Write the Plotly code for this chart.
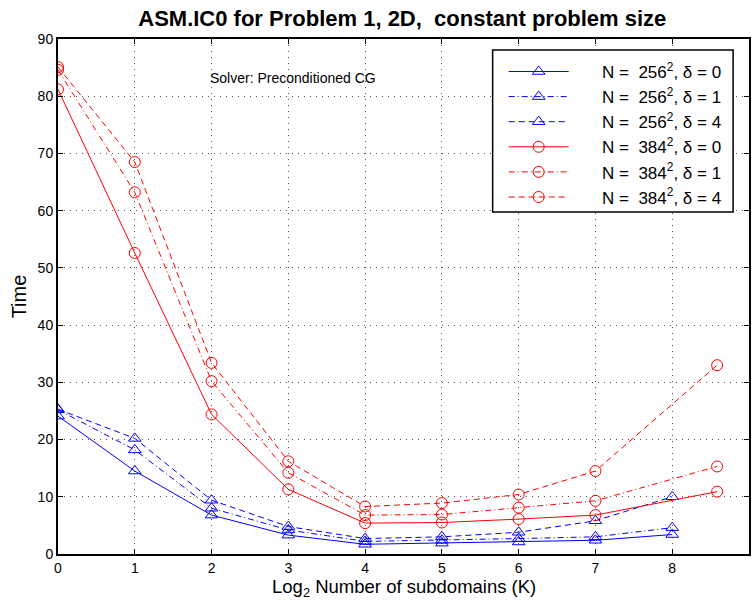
import plotly.graph_objects as go

x256 = [0, 1, 2, 3, 4, 5, 6, 7, 8]
x384 = [0, 1, 2, 3, 4, 5, 6, 7, 8.585]

t256_d0 = [24.1, 14.5, 6.8, 3.3, 1.7, 1.9, 2.1, 2.4, 3.4]
t256_d1 = [25.2, 18.2, 8.0, 4.2, 2.2, 2.4, 2.7, 3.0, 4.6]
t256_d4 = [25.3, 20.2, 9.4, 4.8, 2.7, 3.0, 3.8, 5.8, 10.0]

t384_d0 = [81.2, 52.6, 24.4, 11.3, 5.4, 5.5, 6.1, 6.8, 10.9]
t384_d1 = [84.6, 63.2, 30.2, 14.2, 6.8, 6.9, 8.1, 9.3, 15.3]
t384_d4 = [85.1, 68.5, 33.4, 16.2, 8.3, 8.9, 10.4, 14.5, 33.0]

NB = "\u00a0"
labels = [
    NB * 6 + "N =" + NB * 2 + "256<sup>2</sup>, δ = 0",
    NB * 6 + "N =" + NB * 2 + "256<sup>2</sup>, δ = 1",
    NB * 6 + "N =" + NB * 2 + "256<sup>2</sup>, δ = 4",
    NB * 6 + "N =" + NB * 2 + "384<sup>2</sup>, δ = 0",
    NB * 6 + "N =" + NB * 2 + "384<sup>2</sup>, δ = 1",
    NB * 6 + "N =" + NB * 2 + "384<sup>2</sup>, δ = 4",
]

DASH = "6px,4px"
DASHDOT = "6px,3px,1px,3px"

series = [
    (x256, t256_d0, "blue", "solid", "triangle-up-open"),
    (x256, t256_d1, "blue", DASHDOT, "triangle-up-open"),
    (x256, t256_d4, "blue", DASH, "triangle-up-open"),
    (x384, t384_d0, "red", "solid", "circle-open"),
    (x384, t384_d1, "red", DASHDOT, "circle-open"),
    (x384, t384_d4, "red", DASH, "circle-open"),
]

fig = go.Figure()
for (xs, ys, col, dash, sym), lab in zip(series, labels):
    fig.add_trace(go.Scatter(
        x=xs, y=ys, name=lab, mode="lines+markers",
        line=dict(color=col, width=1, dash=dash),
        marker=dict(symbol=sym, size=11, color=col, line=dict(width=1, color=col)),
    ))

fig.add_annotation(x=3.06, y=83.2, xref="x", yref="y", text="Solver: Preconditioned CG",
                   showarrow=False, font=dict(size=14, color="black"))

# x-axis title as annotation below the tick labels
fig.add_annotation(x=0.5, y=-0.066, xref="paper", yref="paper", xanchor="center", yanchor="middle",
                   text="Log<sub>2</sub> Number of subdomains (K)", showarrow=False,
                   font=dict(size=18.5, color="black"), borderpad=0)

# legend frame
fig.add_shape(type="rect", xref="paper", yref="paper",
              x0=0.629, x1=0.977, y0=0.664, y1=0.9786,
              line=dict(color="black", width=1.5), fillcolor="white", layer="above")

axis_common = dict(
    showline=True, linecolor="black", linewidth=2, mirror="ticks",
    ticks="inside", ticklen=5, tickcolor="black",
    showgrid=True, gridcolor="#555", griddash="1px,5px", gridwidth=1,
    zeroline=False, tickfont=dict(size=14, color="black"),
)

fig.update_layout(
    width=752, height=600,
    margin=dict(l=58, r=1, t=39, b=46),
    paper_bgcolor="white", plot_bgcolor="white",
    font=dict(family="Liberation Sans, Arial, sans-serif", color="black"),
    title=dict(text="<b>ASM.IC0 for Problem 1, 2D," + NB * 2 + "constant problem size</b>",
               x=0.535, xanchor="center", y=0.97, yanchor="middle",
               font=dict(size=22, color="black")),
    xaxis=dict(range=[0, 9], tickmode="array", tickvals=list(range(10)),
               **axis_common),
    yaxis=dict(range=[0, 90], tickmode="array", tickvals=list(range(0, 91, 10)),
               title=dict(text="Time", font=dict(size=20), standoff=6),
               **axis_common),
    legend=dict(x=0.645, y=0.971, xanchor="left", yanchor="top",
                bgcolor="rgba(0,0,0,0)", borderwidth=0,
                font=dict(size=17, color="black"), itemwidth=60,
                tracegroupgap=0),
    showlegend=True,
)

fig.write_html("out.html")
